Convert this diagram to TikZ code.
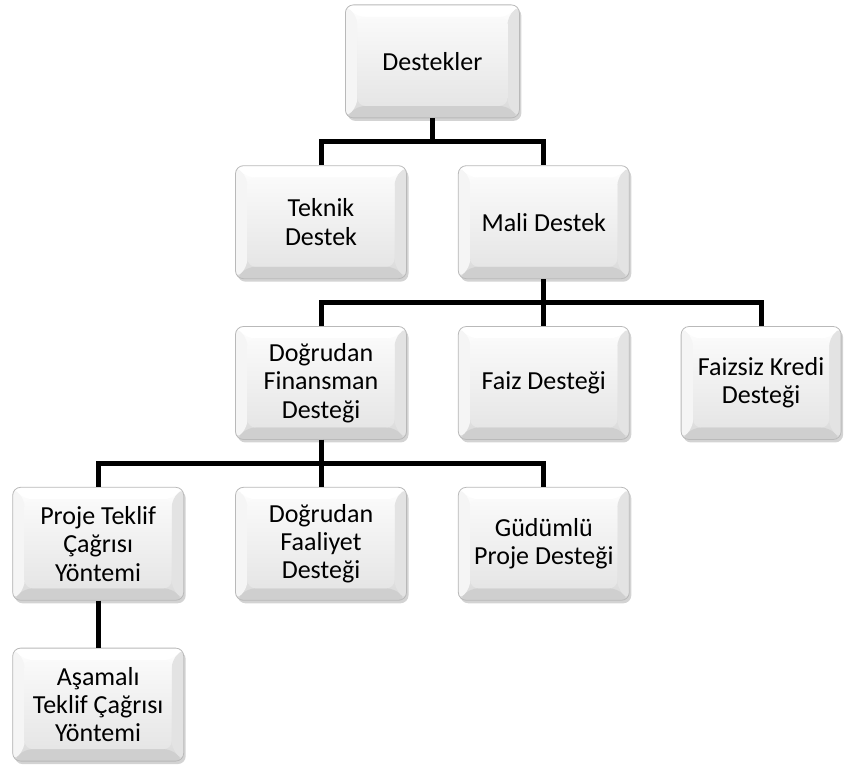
\documentclass[tikz,border=0pt]{standalone}
\usepackage{fontspec}
\setmainfont{Carlito}
\usetikzlibrary{positioning,calc,shadows}

\tikzset{
  box/.style={rounded corners=4pt,minimum width=85.5pt,minimum height=56.5pt,align=center,
    draw=gray!55,line width=0.4pt,top color=white,bottom color=gray!30,
    font=\fontsize{13}{14.2}\selectfont,inner sep=2pt,
    drop shadow={shadow xshift=1pt,shadow yshift=-1.5pt,opacity=0.35},
    path picture={
      \path (path picture bounding box.south west) coordinate (sw)
            (path picture bounding box.north east) coordinate (ne);
      \fill[gray!38] (sw) -- (sw -| ne) -- ($(sw -| ne)+(-6pt,6pt)$) -- ($(sw)+(6pt,6pt)$) -- cycle;
      \fill[gray!22] (sw -| ne) -- (ne) -- ($(ne)+(-6pt,-6pt)$) -- ($(sw -| ne)+(-6pt,6pt)$) -- cycle;
      \fill[gray!8] (sw) -- (sw |- ne) -- ($(sw |- ne)+(6pt,-6pt)$) -- ($(sw)+(6pt,6pt)$) -- cycle;
      \fill[white] (sw |- ne) -- (ne) -- ($(ne)+(-6pt,-6pt)$) -- ($(sw |- ne)+(6pt,-6pt)$) -- cycle;
      \shade[top color=gray!4,bottom color=gray!20] ($(sw)+(6pt,6pt)$) rectangle ($(ne)+(-6pt,-6pt)$);
    }},
  conn/.style={line width=2.5pt,black}
}

\begin{document}
\begin{tikzpicture}[node distance=23.5pt and 25.5pt]
  \useasboundingbox (-160.5pt,-190.5pt) rectangle (261.5pt,191.5pt);
  % third row
  \node[box] (finans) {Doğrudan\\Finansman\\Desteği};
  \node[box,right=of finans] (faiz) {Faiz Desteği};
  \node[box,right=of faiz,minimum width=80pt] (faizsiz) {Faizsiz Kredi\\Desteği};
  % upper rows
  \node[box,above=of finans] (teknik) {Teknik\\Destek};
  \node[box,above=of faiz] (mali) {Mali Destek};
  \coordinate (mid) at ($(teknik.north)!0.5!(mali.north)$);
  \node[box,above=of mid,minimum width=87pt] (dest) {Destekler};
  % lower rows
  \node[box,below=of finans] (faaliyet) {Doğrudan\\Faaliyet\\Desteği};
  \node[box,left=of faaliyet] (proje) {Proje Teklif\\Çağrısı\\Yöntemi};
  \node[box,right=of faaliyet] (gudumlu) {Güdümlü\\Proje Desteği};
  \node[box,below=of proje] (asamali) {Aşamalı\\Teklif Çağrısı\\Yöntemi};

  \draw[conn] (dest.south) -- ++(0,-11.75pt) -| (teknik.north);
  \draw[conn] (dest.south) -- ++(0,-11.75pt) -| (mali.north);
  \draw[conn] (mali.south) -- ++(0,-11.75pt) -| (finans.north);
  \draw[conn] (mali.south) -- (faiz.north);
  \draw[conn] (mali.south) -- ++(0,-11.75pt) -| (faizsiz.north);
  \draw[conn] (finans.south) -- ++(0,-11.75pt) -| (proje.north);
  \draw[conn] (finans.south) -- (faaliyet.north);
  \draw[conn] (finans.south) -- ++(0,-11.75pt) -| (gudumlu.north);
  \draw[conn] (proje.south) -- (asamali.north);
\end{tikzpicture}
\end{document}
